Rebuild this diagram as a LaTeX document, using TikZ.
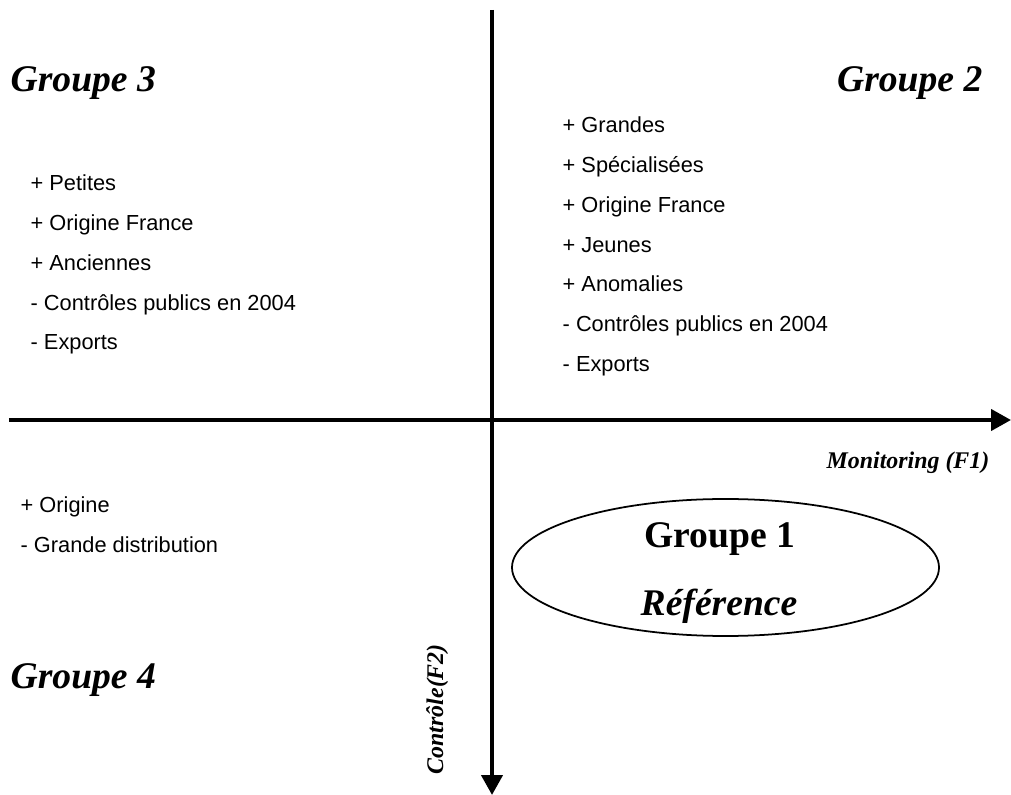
\documentclass[tikz,border=0pt]{standalone}
\usepackage{fontspec}
\setmainfont{Liberation Serif}
\newfontfamily\listfont{Liberation Sans}
\usetikzlibrary{shapes.geometric,arrows.meta,positioning}
\tikzset{
axis/.style = {line width=1.2pt, -{Triangle[length=0.2cm,width=0.21cm]}},
grouplabel/.style = {inner sep=0, font=\fontsize{10.7pt}{12pt}\selectfont\bfseries\itshape},
factor/.style = {inner sep=0, font=\fontsize{6.8pt}{8pt}\selectfont\bfseries\itshape},
item/.style = {inner sep=0, anchor=base west, font=\fontsize{6.2pt}{7pt}\selectfont\listfont},
refzone/.style = {draw, ellipse, line width=0.5pt, minimum width=4.27cm, minimum height=1.37cm}
}
\begin{document}
\begin{tikzpicture}[node distance=0.397cm]
\useasboundingbox (0,0) rectangle (10.11,-7.95);

                % axes
                \coordinate (xstart) at (0.09,-4.20);
                \coordinate (xend) at (10.11,-4.20);
                \coordinate (ystart) at (4.92,-0.10);
                \coordinate (yend) at (4.92,-7.95);
                \draw [axis] (xstart) -- (xend);
                \draw [axis] (ystart) -- (yend);
                \node [factor, anchor=base east] (f1) at (9.90,-4.69) {Monitoring (F1)};
                \node [factor, anchor=base west, rotate=90] (f2) at (4.43,-7.75) {Contrôle(F2)};

                % groups
                \node [grouplabel, anchor=base west] (g3) at (0.10,-0.92) {Groupe 3};
                \node [grouplabel, anchor=base east] (g2) at (9.83,-0.92) {Groupe 2};
                \node [grouplabel, anchor=base west] (g4) at (0.10,-6.88) {Groupe 4};
                \node [refzone] (g1) at (7.255,-5.675) {};
                \node [grouplabel, font=\fontsize{10.7pt}{12pt}\selectfont\bfseries, anchor=base] (g1name) at (7.20,-5.48) {Groupe 1};
                \node [grouplabel, anchor=base] (g1ref) at (7.19,-6.16) {Référence};

                % group 2
                \node [item] (g2a) at (5.62,-1.33) {+ Grandes};
                \node [item, below=of g2a.base west, anchor=base west] (g2b) {+ Spécialisées};
                \node [item, below=of g2b.base west, anchor=base west] (g2c) {+ Origine France};
                \node [item, below=of g2c.base west, anchor=base west] (g2d) {+ Jeunes};
                \node [item, below=of g2d.base west, anchor=base west] (g2e) {+ Anomalies};
                \node [item, below=of g2e.base west, anchor=base west] (g2f) {- Contrôles publics en 2004};
                \node [item, below=of g2f.base west, anchor=base west] (g2g) {- Exports};

                % group 3
                \node [item] (g3a) at (0.30,-1.91) {+ Petites};
                \node [item, below=of g3a.base west, anchor=base west] (g3b) {+ Origine France};
                \node [item, below=of g3b.base west, anchor=base west] (g3c) {+ Anciennes};
                \node [item, below=of g3c.base west, anchor=base west] (g3d) {- Contrôles publics en 2004};
                \node [item, below=of g3d.base west, anchor=base west] (g3e) {- Exports};

                % group 4
                \node [item] (g4a) at (0.20,-5.13) {+ Origine};
                \node [item, below=of g4a.base west, anchor=base west] (g4b) {- Grande distribution};
\end{tikzpicture}
\end{document}
